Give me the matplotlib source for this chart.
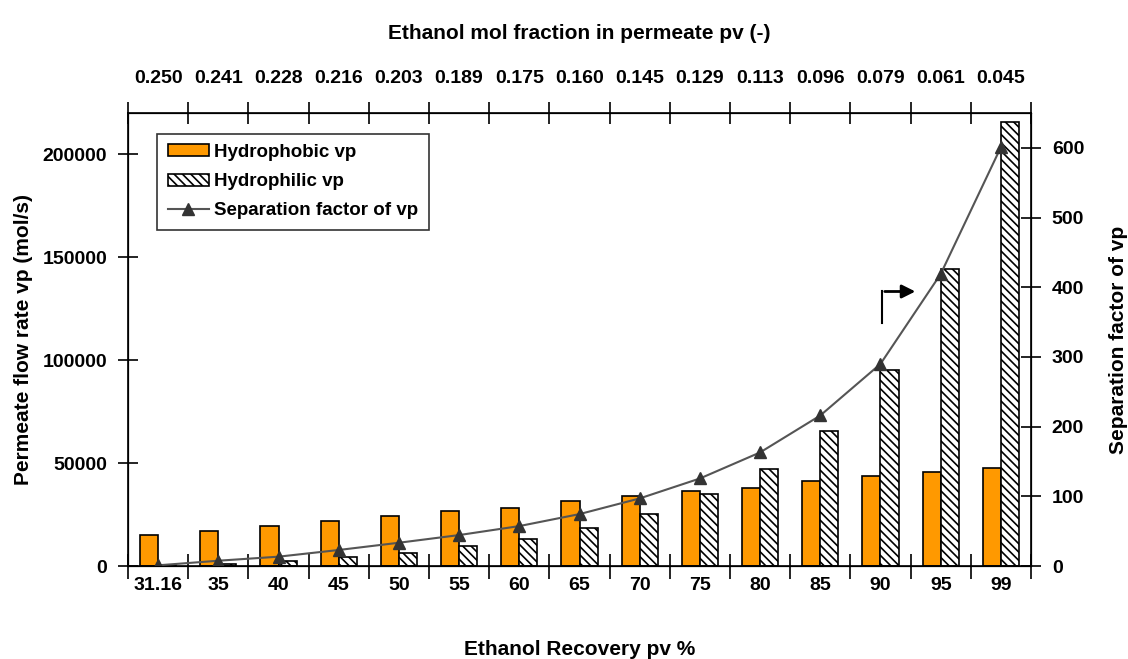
import matplotlib
matplotlib.use("Agg")
import matplotlib.pyplot as plt
import numpy as np

plt.rcParams['font.family'] = ['Liberation Sans', 'DejaVu Sans']
plt.rcParams['font.weight'] = 'bold'
plt.rcParams['hatch.linewidth'] = 1.2

# Ethanol recovery (bottom) and ethanol mol fraction in permeate (top)
recovery = ["31.16", "35", "40", "45", "50", "55", "60", "65",
            "70", "75", "80", "85", "90", "95", "99"]
mol_fraction = ["0.250", "0.241", "0.228", "0.216", "0.203", "0.189", "0.175",
                "0.160", "0.145", "0.129", "0.113", "0.096", "0.079", "0.061", "0.045"]

# Permeate flow rate vp (mol/s)
hydrophobic = [15300, 16900, 19300, 21900, 24200, 26700, 28200, 31400,
               33900, 36300, 38100, 41300, 43700, 45500, 47800]
hydrophilic = [300, 900, 2400, 4200, 6400, 9700, 13000, 18500,
               25200, 34800, 46900, 65800, 95200, 144100, 215600]

# Separation factor of vp
sep_factor = [1, 7.6, 13.4, 23, 33.4, 44.4, 57.3, 74.5,
              97, 125.6, 163, 216, 290, 419, 601]

x = np.arange(len(recovery))
w = 0.3

fig = plt.figure(figsize=(11.28, 6.59), dpi=100)
ax = fig.add_axes([0.1135, 0.1411, 0.8005, 0.6874])

b1 = ax.bar(x - w / 2, hydrophobic, width=w, color='#FF9900', edgecolor='black',
            linewidth=1.2, label='Hydrophobic vp', zorder=2)
b2 = ax.bar(x + w / 2, hydrophilic, width=w, color='white', edgecolor='black',
            hatch='\\\\\\\\', linewidth=1.2, label='Hydrophilic vp', zorder=2)

ax.set_xlim(-0.5, len(recovery) - 0.5)
ax.set_ylim(0, 220000)
ax.set_yticks([0, 50000, 100000, 150000, 200000])
ax.set_yticklabels(["0", "50000", "100000", "150000", "200000"])

# tick marks between categories, labels under each category
bounds = np.arange(len(recovery) + 1) - 0.5
ax.set_xticks(bounds)
ax.set_xticklabels([])
ax.set_xticks(x, minor=True)
ax.set_xticklabels(recovery, minor=True)
ax.tick_params(axis='x', which='major', direction='inout', length=18, width=1.2)
ax.tick_params(axis='x', which='minor', length=0, pad=8, labelsize=14)
ax.tick_params(axis='y', direction='inout', length=14, width=1.2, labelsize=14, pad=8)

ax.set_xlabel("Ethanol Recovery pv %", fontsize=15, fontweight='bold', labelpad=33)
ax.set_ylabel("Permeate flow rate vp (mol/s)", fontsize=15, fontweight='bold', labelpad=7)

for s in ax.spines.values():
    s.set_linewidth(1.2)

# separation factor on the right axis
ax2 = ax.twinx()
line, = ax2.plot(x, sep_factor, color='#555555', linewidth=1.5, marker='^',
                 markersize=8, markerfacecolor='#333333', markeredgecolor='#333333',
                 label='Separation factor of vp', zorder=3)
ax2.set_ylim(0, 650)
ax2.set_yticks(range(0, 700, 100))
ax2.tick_params(axis='y', direction='inout', length=14, width=1.2, labelsize=14, pad=8)
ax2.set_ylabel("Separation factor of vp", fontsize=15, fontweight='bold', labelpad=18)

# top axis with permeate mol fraction
ax3 = ax.twiny()
ax3.set_xlim(ax.get_xlim())
ax3.set_xticks(bounds)
ax3.set_xticklabels([])
ax3.set_xticks(x, minor=True)
ax3.set_xticklabels(mol_fraction, minor=True)
ax3.tick_params(axis='x', which='major', direction='inout', length=16, width=1.2)
ax3.tick_params(axis='x', which='minor', length=0, pad=19, labelsize=14)
ax3.set_xlabel("Ethanol mol fraction in permeate pv (-)", fontsize=15,
               fontweight='bold', labelpad=22)

# elbow arrow pointing to the right axis
ax.annotate("", xy=(0.875, 0.606), xytext=(0.835, 0.606), xycoords='axes fraction',
            arrowprops=dict(arrowstyle='-|>,head_length=0.8,head_width=0.4',
                            color='black', lw=2))
ax.plot([0.835, 0.835], [0.536, 0.606], transform=ax.transAxes, color='black', lw=1.5)

leg = ax.legend(handles=[b1, b2, line], loc='upper left', bbox_to_anchor=(0.022, 0.975),
                fontsize=13.5, frameon=True, fancybox=False, edgecolor='black',
                handlelength=2.2, handleheight=0.6, handletextpad=0.3,
                borderpad=0.55, labelspacing=0.65)
leg.get_frame().set_linewidth(1.2)
leg.set_zorder(5)

fig.savefig("out.png", dpi=100)
